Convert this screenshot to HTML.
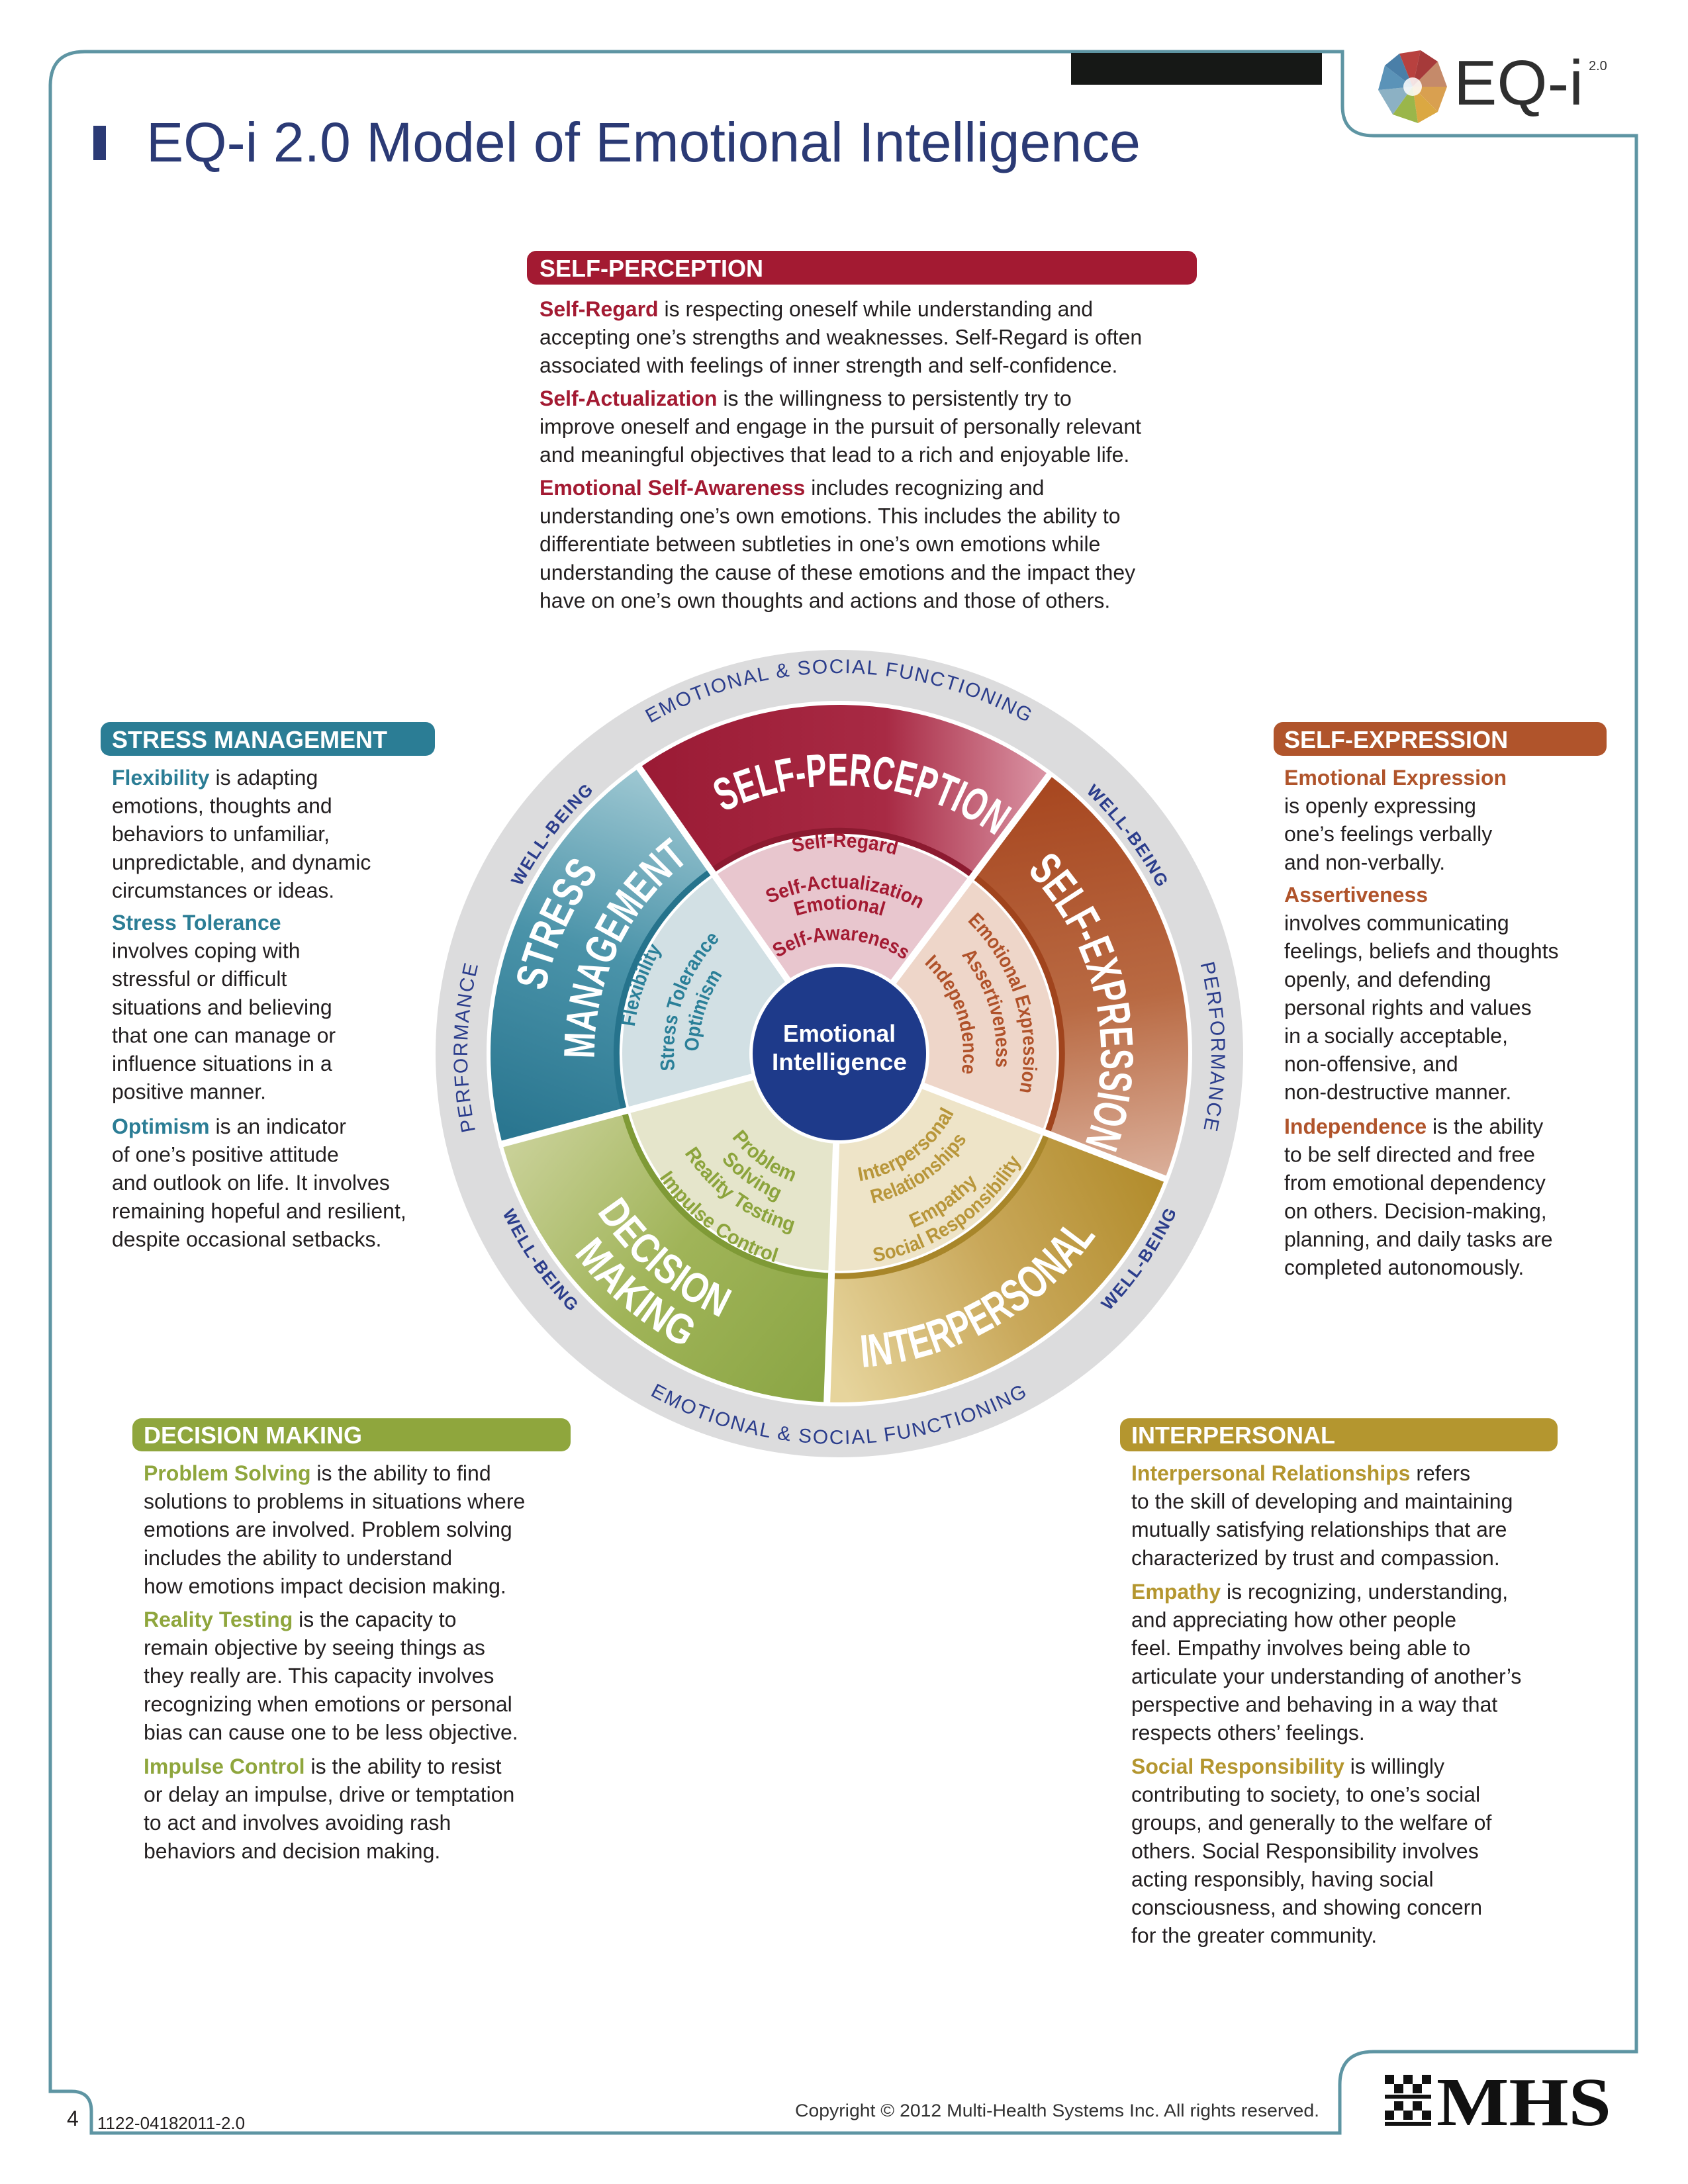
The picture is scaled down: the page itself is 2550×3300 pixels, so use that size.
<!DOCTYPE html>
<html><head><meta charset="utf-8"><style>
html,body{margin:0;padding:0;background:#fff;}
svg{display:block;}
.b{font-family:"Liberation Sans",sans-serif;font-size:32px;fill:#231f20;}
.h{font-family:"Liberation Sans",sans-serif;font-size:36px;font-weight:bold;fill:#fff;}
.w{font-family:"Liberation Sans",sans-serif;font-weight:bold;fill:#fff;}
.r{font-family:"Liberation Sans",sans-serif;fill:#2b3d8c;}
.i{font-family:"Liberation Sans",sans-serif;font-weight:bold;font-size:30px;}
</style></head><body>
<svg width="2550" height="3300" viewBox="0 0 2550 3300" xmlns="http://www.w3.org/2000/svg">
<defs>
<linearGradient id="gSP" gradientUnits="userSpaceOnUse" x1="960" y1="1200" x2="1590" y2="1200"><stop offset="0" stop-color="#9a1a34"/><stop offset="0.6" stop-color="#a82a44"/><stop offset="1" stop-color="#dc98a8"/></linearGradient>
<linearGradient id="gSE" gradientUnits="userSpaceOnUse" x1="1600" y1="1170" x2="1700" y2="1800"><stop offset="0" stop-color="#a7461f"/><stop offset="0.55" stop-color="#b96a43"/><stop offset="1" stop-color="#dcb29e"/></linearGradient>
<linearGradient id="gIP" gradientUnits="userSpaceOnUse" x1="1250" y1="2050" x2="1760" y2="1800"><stop offset="0" stop-color="#e6d49c"/><stop offset="0.5" stop-color="#c9a85a"/><stop offset="1" stop-color="#b28c2c"/></linearGradient>
<linearGradient id="gDM" gradientUnits="userSpaceOnUse" x1="760" y1="1720" x2="1250" y2="2110"><stop offset="0" stop-color="#cbd29b"/><stop offset="0.5" stop-color="#a0b458"/><stop offset="1" stop-color="#8aa544"/></linearGradient>
<linearGradient id="gSM" gradientUnits="userSpaceOnUse" x1="1000" y1="1160" x2="800" y2="1720"><stop offset="0" stop-color="#a2cad4"/><stop offset="0.5" stop-color="#4a93a9"/><stop offset="1" stop-color="#2a7690"/></linearGradient>
<path id="c575" d="M693 1592 a575 575 0 1 1 1150 0 a575 575 0 1 1 -1150 0"/>
<path id="c543" d="M725 1592 a543 543 0 1 1 1086 0 a543 543 0 1 1 -1086 0"/>
<path id="c562" d="M706 1592 a562 562 0 1 1 1124 0 a562 562 0 1 1 -1124 0"/>
<path id="c405" d="M863 1592 a405 405 0 1 1 810 0 a405 405 0 1 1 -810 0"/>
<path id="c395" d="M873 1592 a395 395 0 1 1 790 0 a395 395 0 1 1 -790 0"/>
<path id="c455" d="M813 1592 a455 455 0 1 1 910 0 a455 455 0 1 1 -910 0"/>
<path id="c370" d="M898 1592 a370 370 0 1 1 740 0 a370 370 0 1 1 -740 0"/>
<path id="c312" d="M956 1592 a312 312 0 1 1 624 0 a312 312 0 1 1 -624 0"/>
<path id="c250" d="M1018 1592 a250 250 0 1 1 500 0 a250 250 0 1 1 -500 0"/>
<path id="c218" d="M1050 1592 a218 218 0 1 1 436 0 a218 218 0 1 1 -436 0"/>
<path id="c172" d="M1096 1592 a172 172 0 1 1 344 0 a172 172 0 1 1 -344 0"/>
<path id="c278" d="M990 1592 a278 278 0 1 1 556 0 a278 278 0 1 1 -556 0"/>
<path id="c237" d="M1031 1592 a237 237 0 1 1 474 0 a237 237 0 1 1 -474 0"/>
<path id="c187" d="M1081 1592 a187 187 0 1 1 374 0 a187 187 0 1 1 -374 0"/>
<path id="c213" d="M1055 1592 a213 213 0 1 1 426 0 a213 213 0 1 1 -426 0"/>
<path id="a590" d="M678 1592 a590 590 0 1 0 1180 0 a590 590 0 1 0 -1180 0"/>
<path id="a563" d="M705 1592 a563 563 0 1 0 1126 0 a563 563 0 1 0 -1126 0"/>
<path id="a475" d="M793 1592 a475 475 0 1 0 950 0 a475 475 0 1 0 -950 0"/>
<path id="a437" d="M831 1592 a437 437 0 1 0 874 0 a437 437 0 1 0 -874 0"/>
<path id="a502" d="M766 1592 a502 502 0 1 0 1004 0 a502 502 0 1 0 -1004 0"/>
<path id="a319" d="M949 1592 a319 319 0 1 0 638 0 a319 319 0 1 0 -638 0"/>
<path id="a286" d="M982 1592 a286 286 0 1 0 572 0 a286 286 0 1 0 -572 0"/>
<path id="a232" d="M1036 1592 a232 232 0 1 0 464 0 a232 232 0 1 0 -464 0"/>
<path id="a195" d="M1073 1592 a195 195 0 1 0 390 0 a195 195 0 1 0 -390 0"/>
<path id="a206" d="M1062 1592 a206 206 0 1 0 412 0 a206 206 0 1 0 -412 0"/>
<path id="a240" d="M1028 1592 a240 240 0 1 0 480 0 a240 240 0 1 0 -480 0"/>
<path id="a278" d="M990 1592 a278 278 0 1 0 556 0 a278 278 0 1 0 -556 0"/>
<path id="a330" d="M938 1592 a330 330 0 1 0 660 0 a330 330 0 1 0 -660 0"/>
</defs>

<!-- frame -->
<path d="M76 3160 L76 130 Q76 78 128 78 L2028 78 L2028 160 Q2028 205 2075 205 L2472 205 L2472 3100 L2075 3100 Q2024 3100 2024 3150 L2024 3223 L138 3223 L138 3190 Q138 3160 108 3160 Z" fill="none" stroke="#5e95a3" stroke-width="5"/>
<rect x="1618" y="80" width="379" height="48" fill="#161816"/>

<!-- EQ-i logo -->
<g transform="translate(2134 131)">
<path d="M0 0 L-20 -50 L12 -55 Z" fill="#b8413f"/>
<path d="M0 0 L12 -55 L38 -38 Z" fill="#a63a3a"/>
<path d="M0 0 L38 -38 L52 0 Z" fill="#c58a6a"/>
<path d="M0 0 L52 0 L38 38 Z" fill="#d9a050"/>
<path d="M0 0 L38 38 L8 55 Z" fill="#dba842"/>
<path d="M0 0 L8 55 L-30 42 Z" fill="#9ab64a"/>
<path d="M0 0 L-30 42 L-52 5 Z" fill="#8cb1c4"/>
<path d="M0 0 L-52 5 L-42 -32 Z" fill="#5b93b8"/>
<path d="M0 0 L-42 -32 L-20 -50 Z" fill="#4a7fa8"/>
<circle r="14" fill="#fff" opacity="0.85"/>
</g>
<text x="2196" y="158" font-family="Liberation Sans,sans-serif" font-size="96" fill="#2f2f2f" textLength="196" lengthAdjust="spacingAndGlyphs">EQ-i</text>
<text x="2400" y="106" font-family="Liberation Sans,sans-serif" font-size="20" fill="#333">2.0</text>

<!-- title -->
<rect x="141" y="190" width="19" height="52" fill="#2b3a75"/>
<text x="221" y="244" font-family="Liberation Sans,sans-serif" font-size="84" fill="#2b3a75" textLength="1502" lengthAdjust="spacingAndGlyphs">EQ-i 2.0 Model of Emotional Intelligence</text>

<!-- pills -->
<rect x="796" y="379" width="1012" height="51" rx="14" fill="#a31a32"/>
<text class="h" x="815" y="418">SELF-PERCEPTION</text>
<rect x="152" y="1091" width="505" height="51" rx="14" fill="#2b7d95"/>
<text class="h" x="169" y="1130">STRESS MANAGEMENT</text>
<rect x="1924" y="1091" width="503" height="51" rx="14" fill="#b0542b"/>
<text class="h" x="1940" y="1130">SELF-EXPRESSION</text>
<rect x="200" y="2143" width="662" height="50" rx="14" fill="#8fa63d"/>
<text class="h" x="217" y="2181">DECISION MAKING</text>
<rect x="1692" y="2143" width="661" height="50" rx="14" fill="#b4962f"/>
<text class="h" x="1709" y="2181">INTERPERSONAL</text>

<!-- SP text -->
<text class="b" x="815" y="478"><tspan font-weight="bold" fill="#a31a32">Self-Regard</tspan> is respecting oneself while understanding and<tspan x="815" dy="42.6">accepting one’s strengths and weaknesses. Self-Regard is often</tspan><tspan x="815" dy="42.6">associated with feelings of inner strength and self-confidence.</tspan></text>
<text class="b" x="815" y="613"><tspan font-weight="bold" fill="#a31a32">Self-Actualization</tspan> is the willingness to persistently try to<tspan x="815" dy="42.6">improve oneself and engage in the pursuit of personally relevant</tspan><tspan x="815" dy="42.6">and meaningful objectives that lead to a rich and enjoyable life.</tspan></text>
<text class="b" x="815" y="748"><tspan font-weight="bold" fill="#a31a32">Emotional Self-Awareness</tspan> includes recognizing and<tspan x="815" dy="42.6">understanding one’s own emotions. This includes the ability to</tspan><tspan x="815" dy="42.6">differentiate between subtleties in one’s own emotions while</tspan><tspan x="815" dy="42.6">understanding the cause of these emotions and the impact they</tspan><tspan x="815" dy="42.6">have on one’s own thoughts and actions and those of others.</tspan></text>

<!-- SM text -->
<text class="b" x="169" y="1186"><tspan font-weight="bold" fill="#2b7d95">Flexibility</tspan> is adapting<tspan x="169" dy="42.6">emotions, thoughts and</tspan><tspan x="169" dy="42.6">behaviors to unfamiliar,</tspan><tspan x="169" dy="42.6">unpredictable, and dynamic</tspan><tspan x="169" dy="42.6">circumstances or ideas.</tspan></text>
<text class="b" x="169" y="1405"><tspan font-weight="bold" fill="#2b7d95">Stress Tolerance</tspan><tspan x="169" dy="42.6">involves coping with</tspan><tspan x="169" dy="42.6">stressful or difficult</tspan><tspan x="169" dy="42.6">situations and believing</tspan><tspan x="169" dy="42.6">that one can manage or</tspan><tspan x="169" dy="42.6">influence situations in a</tspan><tspan x="169" dy="42.6">positive manner.</tspan></text>
<text class="b" x="169" y="1713"><tspan font-weight="bold" fill="#2b7d95">Optimism</tspan> is an indicator<tspan x="169" dy="42.6">of one’s positive attitude</tspan><tspan x="169" dy="42.6">and outlook on life. It involves</tspan><tspan x="169" dy="42.6">remaining hopeful and resilient,</tspan><tspan x="169" dy="42.6">despite occasional setbacks.</tspan></text>

<!-- SE text -->
<text class="b" x="1940" y="1186"><tspan font-weight="bold" fill="#b0542b">Emotional Expression</tspan><tspan x="1940" dy="42.6">is openly expressing</tspan><tspan x="1940" dy="42.6">one’s feelings verbally</tspan><tspan x="1940" dy="42.6">and non-verbally.</tspan></text>
<text class="b" x="1940" y="1363"><tspan font-weight="bold" fill="#b0542b">Assertiveness</tspan><tspan x="1940" dy="42.6">involves communicating</tspan><tspan x="1940" dy="42.6">feelings, beliefs and thoughts</tspan><tspan x="1940" dy="42.6">openly, and defending</tspan><tspan x="1940" dy="42.6">personal rights and values</tspan><tspan x="1940" dy="42.6">in a socially acceptable,</tspan><tspan x="1940" dy="42.6">non-offensive, and</tspan><tspan x="1940" dy="42.6">non-destructive manner.</tspan></text>
<text class="b" x="1940" y="1713"><tspan font-weight="bold" fill="#b0542b">Independence</tspan> is the ability<tspan x="1940" dy="42.6">to be self directed and free</tspan><tspan x="1940" dy="42.6">from emotional dependency</tspan><tspan x="1940" dy="42.6">on others. Decision-making,</tspan><tspan x="1940" dy="42.6">planning, and daily tasks are</tspan><tspan x="1940" dy="42.6">completed autonomously.</tspan></text>

<!-- DM text -->
<text class="b" x="217" y="2237"><tspan font-weight="bold" fill="#8fa63d">Problem Solving</tspan> is the ability to find<tspan x="217" dy="42.6">solutions to problems in situations where</tspan><tspan x="217" dy="42.6">emotions are involved. Problem solving</tspan><tspan x="217" dy="42.6">includes the ability to understand</tspan><tspan x="217" dy="42.6">how emotions impact decision making.</tspan></text>
<text class="b" x="217" y="2458"><tspan font-weight="bold" fill="#8fa63d">Reality Testing</tspan> is the capacity to<tspan x="217" dy="42.6">remain objective by seeing things as</tspan><tspan x="217" dy="42.6">they really are. This capacity involves</tspan><tspan x="217" dy="42.6">recognizing when emotions or personal</tspan><tspan x="217" dy="42.6">bias can cause one to be less objective.</tspan></text>
<text class="b" x="217" y="2680"><tspan font-weight="bold" fill="#8fa63d">Impulse Control</tspan> is the ability to resist<tspan x="217" dy="42.6">or delay an impulse, drive or temptation</tspan><tspan x="217" dy="42.6">to act and involves avoiding rash</tspan><tspan x="217" dy="42.6">behaviors and decision making.</tspan></text>

<!-- IP text -->
<text class="b" x="1709" y="2237"><tspan font-weight="bold" fill="#b4962f">Interpersonal Relationships</tspan> refers<tspan x="1709" dy="42.6">to the skill of developing and maintaining</tspan><tspan x="1709" dy="42.6">mutually satisfying relationships that are</tspan><tspan x="1709" dy="42.6">characterized by trust and compassion.</tspan></text>
<text class="b" x="1709" y="2416"><tspan font-weight="bold" fill="#b4962f">Empathy</tspan> is recognizing, understanding,<tspan x="1709" dy="42.6">and appreciating how other people</tspan><tspan x="1709" dy="42.6">feel. Empathy involves being able to</tspan><tspan x="1709" dy="42.6">articulate your understanding of another’s</tspan><tspan x="1709" dy="42.6">perspective and behaving in a way that</tspan><tspan x="1709" dy="42.6">respects others’ feelings.</tspan></text>
<text class="b" x="1709" y="2680"><tspan font-weight="bold" fill="#b4962f">Social Responsibility</tspan> is willingly<tspan x="1709" dy="42.6">contributing to society, to one’s social</tspan><tspan x="1709" dy="42.6">groups, and generally to the welfare of</tspan><tspan x="1709" dy="42.6">others. Social Responsibility involves</tspan><tspan x="1709" dy="42.6">acting responsibly, having social</tspan><tspan x="1709" dy="42.6">consciousness, and showing concern</tspan><tspan x="1709" dy="42.6">for the greater community.</tspan></text>

<!-- WHEEL -->
<circle cx="1268" cy="1592" r="610" fill="#dcdcdd"/>
<circle cx="1268" cy="1592" r="533" fill="#fff"/>
<path d="M965.7 1160.3 A527 527 0 0 1 1585.1 1171.1 L1472.6 1320.5 A340 340 0 0 0 1073 1313.5 Z" fill="url(#gSP)"/>
<path d="M1585.1 1171.1 A527 527 0 0 1 1760 1780.9 L1585.4 1713.9 A340 340 0 0 0 1472.6 1320.5 Z" fill="url(#gSE)"/>
<path d="M1760 1780.9 A527 527 0 0 1 1249.6 2118.7 L1256.1 1931.8 A340 340 0 0 0 1585.4 1713.9 Z" fill="url(#gIP)"/>
<path d="M1249.6 2118.7 A527 527 0 0 1 759 1728.4 L939.6 1680 A340 340 0 0 0 1256.1 1931.8 Z" fill="url(#gDM)"/>
<path d="M759 1728.4 A527 527 0 0 1 965.7 1160.3 L1073 1313.5 A340 340 0 0 0 939.6 1680 Z" fill="url(#gSM)"/>
<path d="M1268 1592 L1079.9 1323.3 A328 328 0 0 1 1465.4 1330.1 Z" fill="#e8c6ce"/>
<path d="M1268 1592 L1465.4 1330.1 A328 328 0 0 1 1574.2 1709.6 Z" fill="#eed6c9"/>
<path d="M1268 1592 L1574.2 1709.6 A328 328 0 0 1 1256.6 1919.8 Z" fill="#eee4c8"/>
<path d="M1268 1592 L1256.6 1919.8 A328 328 0 0 1 951.2 1676.9 Z" fill="#e5e5cb"/>
<path d="M1268 1592 L951.2 1676.9 A328 328 0 0 1 1079.9 1323.3 Z" fill="#d2e0e4"/>
<path d="M1075 1316 A336 336 0 0 1 1470 1323" fill="none" stroke="#8c1a30" stroke-width="9"/>
<path d="M1470 1323 A336 336 0 0 1 1582 1712" fill="none" stroke="#a0441d" stroke-width="9"/>
<path d="M1582 1712 A336 336 0 0 1 1256 1928" fill="none" stroke="#a8862a" stroke-width="9"/>
<path d="M1256 1928 A336 336 0 0 1 943 1679" fill="none" stroke="#7f9a36" stroke-width="9"/>
<path d="M943 1679 A336 336 0 0 1 1075 1316" fill="none" stroke="#26738c" stroke-width="9"/>
<g stroke="#fff" stroke-width="10">
<line x1="1268" y1="1592" x2="962" y2="1155"/>
<line x1="1268" y1="1592" x2="1588" y2="1167"/>
<line x1="1268" y1="1592" x2="1765" y2="1783"/>
<line x1="1268" y1="1592" x2="1249" y2="2124"/>
<line x1="1268" y1="1592" x2="753" y2="1730"/>
</g>
<circle cx="1268" cy="1592" r="136" fill="#fff"/>
<circle cx="1268" cy="1592" r="131" fill="#1e3a8a"/>
<text x="1268" y="1574" text-anchor="middle" class="w" font-size="36" textLength="170" lengthAdjust="spacingAndGlyphs">Emotional</text>
<text x="1268" y="1617" text-anchor="middle" class="w" font-size="36" textLength="204" lengthAdjust="spacingAndGlyphs">Intelligence</text>

<!-- ring labels -->
<text class="r" font-size="30" letter-spacing="2"><textPath href="#c575" startOffset="25%" text-anchor="middle">EMOTIONAL &amp; SOCIAL FUNCTIONING</textPath></text>
<text class="r" font-size="30" letter-spacing="2"><textPath href="#a590" startOffset="25%" text-anchor="middle">EMOTIONAL &amp; SOCIAL FUNCTIONING</textPath></text>
<g transform="rotate(-52.6 1268 1592)"><text class="r" font-size="26" font-weight="bold" letter-spacing="2"><textPath href="#c543" startOffset="25%" text-anchor="middle">WELL-BEING</textPath></text></g>
<g transform="rotate(53 1268 1592)"><text class="r" font-size="26" font-weight="bold" letter-spacing="2"><textPath href="#c543" startOffset="25%" text-anchor="middle">WELL-BEING</textPath></text></g>
<g transform="rotate(-55.7 1268 1592)"><text class="r" font-size="26" font-weight="bold" letter-spacing="2"><textPath href="#a563" startOffset="25%" text-anchor="middle">WELL-BEING</textPath></text></g>
<g transform="rotate(55.3 1268 1592)"><text class="r" font-size="26" font-weight="bold" letter-spacing="2"><textPath href="#a563" startOffset="25%" text-anchor="middle">WELL-BEING</textPath></text></g>
<g transform="rotate(271 1268 1592)"><text class="r" font-size="30" letter-spacing="2"><textPath href="#c562" startOffset="25%" text-anchor="middle">PERFORMANCE</textPath></text></g>
<g transform="rotate(89 1268 1592)"><text class="r" font-size="30" letter-spacing="2"><textPath href="#c562" startOffset="25%" text-anchor="middle">PERFORMANCE</textPath></text></g>

<!-- band titles -->
<g transform="rotate(5 1268 1592)"><text class="w" font-size="70"><textPath href="#c405" startOffset="25%" text-anchor="middle" textLength="435" lengthAdjust="spacingAndGlyphs">SELF-PERCEPTION</textPath></text></g>
<g transform="rotate(78 1268 1592)"><text class="w" font-size="70"><textPath href="#c395" startOffset="25%" text-anchor="middle" textLength="445" lengthAdjust="spacingAndGlyphs">SELF-EXPRESSION</textPath></text></g>
<g transform="rotate(294.5 1268 1592)"><text class="w" font-size="66"><textPath href="#c455" startOffset="25%" text-anchor="middle" textLength="200" lengthAdjust="spacingAndGlyphs">STRESS</textPath></text></g>
<g transform="rotate(295.5 1268 1592)"><text class="w" font-size="66"><textPath href="#c370" startOffset="25%" text-anchor="middle" textLength="345" lengthAdjust="spacingAndGlyphs">MANAGEMENT</textPath></text></g>
<g transform="rotate(-29.4 1268 1592)"><text class="w" font-size="70"><textPath href="#a475" startOffset="25%" text-anchor="middle" textLength="420" lengthAdjust="spacingAndGlyphs">INTERPERSONAL</textPath></text></g>
<g transform="rotate(40.5 1268 1592)"><text class="w" font-size="64"><textPath href="#a437" startOffset="25%" text-anchor="middle" textLength="250" lengthAdjust="spacingAndGlyphs">DECISION</textPath></text></g>
<g transform="rotate(40.4 1268 1592)"><text class="w" font-size="64"><textPath href="#a502" startOffset="25%" text-anchor="middle" textLength="222" lengthAdjust="spacingAndGlyphs">MAKING</textPath></text></g>

<g fill="#a31a32">
<g transform="rotate(1.5 1268 1592)"><text class="i"><textPath href="#c312" startOffset="25%" text-anchor="middle" textLength="157" lengthAdjust="spacingAndGlyphs">Self-Regard</textPath></text></g>
<g transform="rotate(2 1268 1592)"><text class="i"><textPath href="#c250" startOffset="25%" text-anchor="middle" textLength="236" lengthAdjust="spacingAndGlyphs">Self-Actualization</textPath></text></g>
<g transform="rotate(0 1268 1592)"><text class="i"><textPath href="#c218" startOffset="25%" text-anchor="middle" textLength="133" lengthAdjust="spacingAndGlyphs">Emotional</textPath></text></g>
<g transform="rotate(1 1268 1592)"><text class="i"><textPath href="#c172" startOffset="25%" text-anchor="middle" textLength="203" lengthAdjust="spacingAndGlyphs">Self-Awareness</textPath></text></g>
</g>
<g fill="#b0522a">
<g transform="rotate(73 1268 1592)"><text class="i"><textPath href="#c278" startOffset="25%" text-anchor="middle" textLength="282" lengthAdjust="spacingAndGlyphs">Emotional Expression</textPath></text></g>
<g transform="rotate(73 1268 1592)"><text class="i"><textPath href="#c237" startOffset="25%" text-anchor="middle" textLength="182" lengthAdjust="spacingAndGlyphs">Assertiveness</textPath></text></g>
<g transform="rotate(71.2 1268 1592)"><text class="i"><textPath href="#c187" startOffset="25%" text-anchor="middle" textLength="183" lengthAdjust="spacingAndGlyphs">Independence</textPath></text></g>
</g>
<g fill="#2a7f98">
<g transform="rotate(289 1268 1592)"><text class="i"><textPath href="#c312" startOffset="25%" text-anchor="middle" textLength="126" lengthAdjust="spacingAndGlyphs">Flexibility</textPath></text></g>
<g transform="rotate(289 1268 1592)"><text class="i"><textPath href="#c250" startOffset="25%" text-anchor="middle" textLength="217" lengthAdjust="spacingAndGlyphs">Stress Tolerance</textPath></text></g>
<g transform="rotate(287.5 1268 1592)"><text class="i"><textPath href="#c213" startOffset="25%" text-anchor="middle" textLength="124" lengthAdjust="spacingAndGlyphs">Optimism</textPath></text></g>
</g>
<g fill="#b8963a">
<g transform="rotate(-35.8 1268 1592)"><text class="i"><textPath href="#a195" startOffset="25%" text-anchor="middle" textLength="184" lengthAdjust="spacingAndGlyphs">Interpersonal</textPath></text></g>
<g transform="rotate(-34.3 1268 1592)"><text class="i"><textPath href="#a232" startOffset="25%" text-anchor="middle" textLength="177" lengthAdjust="spacingAndGlyphs">Relationships</textPath></text></g>
<g transform="rotate(-35 1268 1592)"><text class="i"><textPath href="#a286" startOffset="25%" text-anchor="middle" textLength="120" lengthAdjust="spacingAndGlyphs">Empathy</textPath></text></g>
<g transform="rotate(-34.5 1268 1592)"><text class="i"><textPath href="#a319" startOffset="25%" text-anchor="middle" textLength="278" lengthAdjust="spacingAndGlyphs">Social Responsibility</textPath></text></g>
</g>
<g fill="#8ca43c">
<g transform="rotate(36 1268 1592)"><text class="i"><textPath href="#a206" startOffset="25%" text-anchor="middle" textLength="116" lengthAdjust="spacingAndGlyphs">Problem</textPath></text></g>
<g transform="rotate(35.4 1268 1592)"><text class="i"><textPath href="#a240" startOffset="25%" text-anchor="middle" textLength="106" lengthAdjust="spacingAndGlyphs">Solving</textPath></text></g>
<g transform="rotate(36 1268 1592)"><text class="i"><textPath href="#a278" startOffset="25%" text-anchor="middle" textLength="207" lengthAdjust="spacingAndGlyphs">Reality Testing</textPath></text></g>
<g transform="rotate(36.3 1268 1592)"><text class="i"><textPath href="#a330" startOffset="25%" text-anchor="middle" textLength="222" lengthAdjust="spacingAndGlyphs">Impulse Control</textPath></text></g>
</g>

<!-- footer -->
<text x="101" y="3212" font-family="Liberation Sans,sans-serif" font-size="32" fill="#231f20">4</text>
<text x="147" y="3217" font-family="Liberation Sans,sans-serif" font-size="26" fill="#231f20">1122-04182011-2.0</text>
<text x="1993" y="3198" text-anchor="end" font-family="Liberation Sans,sans-serif" font-size="27" fill="#333" textLength="792" lengthAdjust="spacingAndGlyphs">Copyright © 2012 Multi-Health Systems Inc. All rights reserved.</text>
<g fill="#111">
<rect x="2092" y="3135" width="14" height="14"/><rect x="2120" y="3135" width="14" height="14"/><rect x="2148" y="3135" width="14" height="14"/>
<rect x="2106" y="3149" width="14" height="14"/><rect x="2134" y="3149" width="14" height="14"/>
<rect x="2092" y="3165" width="70" height="6"/>
<rect x="2106" y="3175" width="14" height="14"/><rect x="2134" y="3175" width="14" height="14"/>
<rect x="2092" y="3189" width="14" height="14"/><rect x="2120" y="3189" width="14" height="14"/><rect x="2148" y="3189" width="14" height="14"/>
<rect x="2092" y="3206" width="70" height="6"/>
</g>
<text x="2170" y="3211" font-family="Liberation Serif,serif" font-weight="bold" font-size="104" fill="#111" textLength="264" lengthAdjust="spacingAndGlyphs">MHS</text>
</svg>
</body></html>
